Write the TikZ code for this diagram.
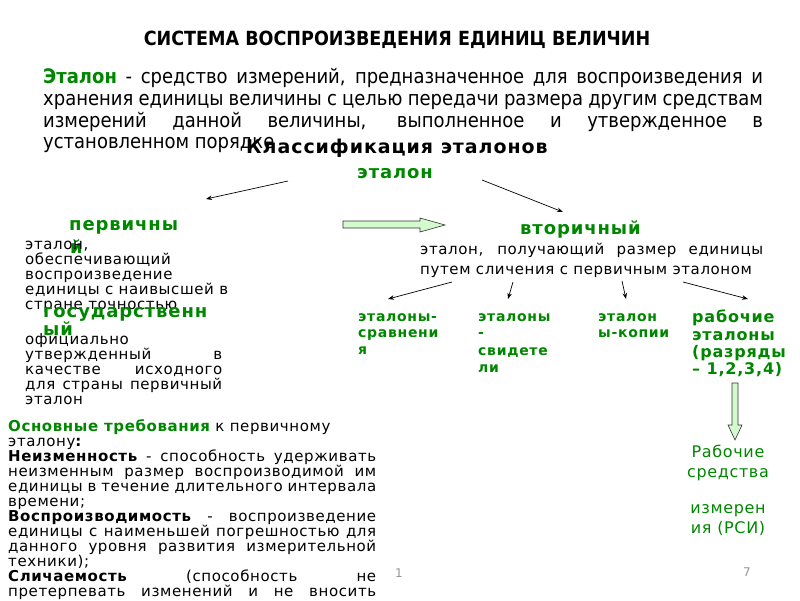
\documentclass[tikz,border=0pt]{standalone}
\usepackage{fontspec}
\setmainfont{DejaVu Sans}
\newfontfamily\condf{DejaVu Sans Condensed}
\newfontfamily\lsf[LetterSpace=4]{DejaVu Sans}
\newfontfamily\bsf[LetterSpace=5]{DejaVu Sans}
\usetikzlibrary{arrows.meta}
\definecolor{grn}{RGB}{0,135,0}
\definecolor{lgreen}{RGB}{210,250,205}
\definecolor{pgray}{RGB}{150,150,150}
\newcommand\jl[2]{\makebox[#1pt][s]{#2}}
\begin{document}
\begin{tikzpicture}[x=1pt,y=-1pt,
  txt/.style={inner sep=0pt, anchor=base west, font=\lsf\fontsize{15}{15}\selectfont},
  gb/.style={inner sep=0pt, anchor=base west, text=grn, font=\bsf\bfseries\fontsize{18}{18}\selectfont},
  gs/.style={inner sep=0pt, anchor=base west, text=grn, font=\bsf\bfseries\fontsize{14}{14}\selectfont},
  gm/.style={inner sep=0pt, anchor=base west, text=grn, font=\bsf\bfseries\fontsize{16}{16}\selectfont},
  rsi/.style={inner sep=0pt, anchor=base, text=grn, font=\lsf\fontsize{16}{16}\selectfont},
  deftxt/.style={inner sep=0pt, anchor=base west, font=\condf\fontsize{20}{20}\selectfont},
  arr/.style={-{Stealth[length=6pt,width=4.5pt]}, line width=0.7pt},
  blk/.style={draw=black!80, fill=lgreen, line width=0.6pt},
  pnum/.style={inner sep=0pt, text=pgray, font=\fontsize{12}{12}\selectfont}]
\useasboundingbox (0,0) rectangle (800,600);
\fill[white] (0,0) rectangle (800,600);

% title
\node[inner sep=0pt, anchor=base, font=\condf\bfseries\fontsize{19.5}{19.5}\selectfont] (title) at (397,45) {СИСТЕМА ВОСПРОИЗВЕДЕНИЯ ЕДИНИЦ ВЕЛИЧИН};

% definition
\node[deftxt] (d1) at (43,83) {\jl{720}{{\color{grn}\bfseries Эталон} - средство измерений, предназначенное для воспроизведения и}};
\node[deftxt] (d2) at (43,105) {\jl{720}{хранения единицы величины с целью передачи размера другим средствам}};
\node[deftxt] (d3) at (43,127) {\jl{720}{измерений данной величины, выполненное и утвержденное в}};
\node[deftxt] (d4) at (43,148) {установленном порядке};

% classification
\node[inner sep=0pt, anchor=base west, font=\bsf\bfseries\fontsize{19}{19}\selectfont] (cls) at (246,153) {Классификация эталонов};
\node[gb] (et) at (357,178) {эталон};

\coordinate (a1s) at (288,181); \coordinate (a1e) at (206,199);
\coordinate (a2s) at (482,180); \coordinate (a2e) at (563,212);
\draw[arr] (a1s) -- (a1e);
\draw[arr] (a2s) -- (a2e);

% primary
\node[gb] (pr1) at (69,230) {первичны};
\node[gb] (pr2) at (70,253) {й};
\node[txt] (p1) at (25,249) {эталон,};
\node[txt] (p2) at (25,264) {обеспечивающий};
\node[txt] (p3) at (25,279) {воспроизведение};
\node[txt] (p4) at (25,294) {единицы с наивысшей в};
\node[txt] (p5) at (25,309) {стране точностью};

% state
\node[gb] (st1) at (43,317) {государственн};
\node[gb] (st2) at (43,335) {ый};
\node[txt] (s1) at (25,344) {официально};
\node[txt] (s2) at (25,359) {\jl{197}{утвержденный в}};
\node[txt] (s3) at (25,374) {\jl{197}{качестве исходного}};
\node[txt] (s4) at (25,389) {\jl{197}{для страны первичный}};
\node[txt] (s5) at (25,404) {эталон};

% horizontal block arrow
\coordinate (h0) at (343,221);
\draw[blk] (h0) -- (420,221) -- (420,218) -- (445,225) -- (420,232) -- (420,228) -- (343,228) -- cycle;

% secondary
\node[gb] (sec) at (520,234) {вторичный};
\node[txt] (q1) at (420,254) {\jl{343}{эталон, получающий размер единицы}};
\node[txt] (q2) at (420,274) {путем сличения с первичным эталоном};

\coordinate (b1s) at (452,282); \coordinate (b1e) at (388,299);
\coordinate (b2s) at (513,282); \coordinate (b2e) at (508,299);
\coordinate (b3s) at (622,281); \coordinate (b3e) at (626,299);
\coordinate (b4s) at (683,282); \coordinate (b4e) at (748,299);
\draw[arr] (b1s) -- (b1e);
\draw[arr] (b2s) -- (b2e);
\draw[arr] (b3s) -- (b3e);
\draw[arr] (b4s) -- (b4e);

% kinds
\node[gs] (k1a) at (358,321) {эталоны-};
\node[gs] (k1b) at (358,337) {сравнени};
\node[gs] (k1c) at (358,354) {я};
\node[gs] (k2a) at (478,321) {эталоны};
\node[gs] (k2b) at (478,337) {-};
\node[gs] (k2c) at (478,355) {свидете};
\node[gs] (k2d) at (478,372) {ли};
\node[gs] (k3a) at (598,321) {эталон};
\node[gs] (k3b) at (598,337) {ы-копии};
\node[gm] (k4a) at (692,322) {рабочие};
\node[gm] (k4b) at (692,340) {эталоны};
\node[gm] (k4c) at (692,357) {(разряды};
\node[gm] (k4d) at (692,374) {– 1,2,3,4)};

% vertical block arrow
\draw[blk] (732,383) -- (738,383) -- (738,425) -- (742,425) -- (735,440) -- (728,425) -- (732,425) -- cycle;

\node[rsi] (r1) at (728,457) {Рабочие};
\node[rsi] (r2) at (728,477) {средства};
\node[rsi] (r3) at (728,513) {измерен};
\node[rsi] (r4) at (728,533) {ия (РСИ)};

% requirements
\node[txt] (t1) at (8,431) {{\color{grn}\bfseries Основные требования} к первичному};
\node[txt] (t2) at (8,446) {эталону{\bfseries :}};
\node[txt] (t3) at (8,461) {\jl{368}{{\bfseries Неизменность} - способность удерживать}};
\node[txt] (t4) at (8,476) {\jl{368}{неизменным размер воспроизводимой им}};
\node[txt] (t5) at (8,491) {\jl{368}{единицы в течение длительного интервала}};
\node[txt] (t6) at (8,506) {времени;};
\node[txt] (t7) at (8,521) {\jl{368}{{\bfseries Воспроизводимость} - воспроизведение}};
\node[txt] (t8) at (8,536) {\jl{368}{единицы с наименьшей погрешностью для}};
\node[txt] (t9) at (8,551) {\jl{368}{данного уровня развития измерительной}};
\node[txt] (t10) at (8,566) {техники);};
\node[txt] (t11) at (8,581) {\jl{368}{{\bfseries Сличаемость} (способность не}};
\node[txt] (t12) at (8,596) {\jl{368}{претерпевать изменений и не вносить}};

% page numbers
\node[pnum] (n1) at (399,573) {1};
\node[pnum] (n7) at (747,572) {7};
\end{tikzpicture}
\end{document}
